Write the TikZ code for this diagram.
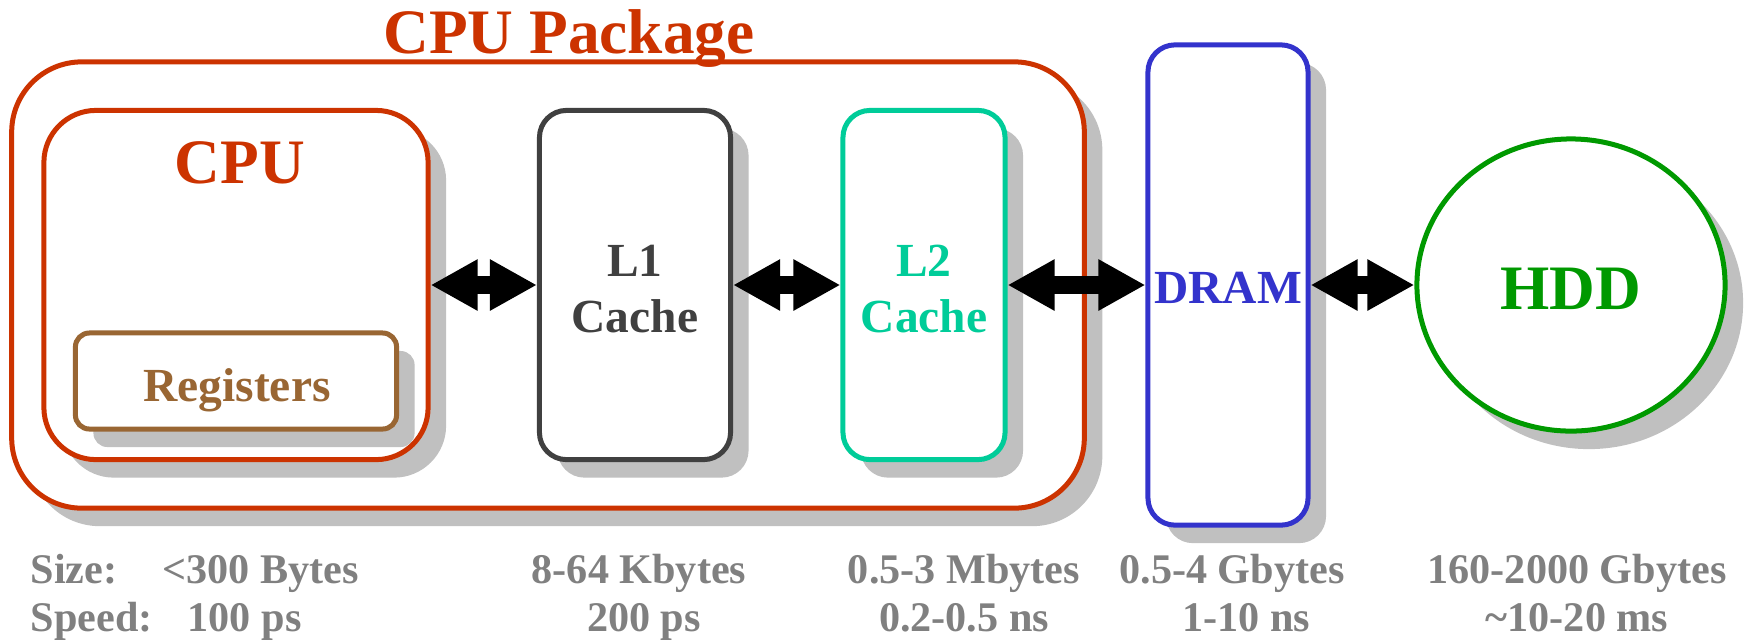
\documentclass[tikz,border=0pt]{standalone}
\usepackage{fontspec}
\setmainfont{Liberation Serif}
\usetikzlibrary{shadows,arrows.meta,shapes.geometric}
\definecolor{pkgred}{HTML}{CC3300}
\definecolor{lonegray}{HTML}{404040}
\definecolor{ltwoteal}{HTML}{00CC99}
\definecolor{dramblue}{HTML}{3333CC}
\definecolor{hddgreen}{HTML}{009900}
\definecolor{regbrown}{HTML}{996633}
\definecolor{notegray}{HTML}{808080}
\definecolor{shadowgray}{HTML}{C0C0C0}
\begin{document}
\begin{tikzpicture}[x=0.01cm, y=-0.01cm,
    box/.style={draw=#1, line width=0.05cm, fill=white, inner sep=0pt, rounded corners=0.27cm,
      drop shadow={shadow xshift=0.18cm, shadow yshift=-0.18cm, fill=shadowgray, draw=none, opacity=1}},
    big/.style={font=\fontsize{18}{21}\selectfont\bfseries, inner sep=0pt},
    mid/.style={font=\fontsize{13.5}{16}\selectfont\bfseries, inner sep=0pt, align=center},
    note/.style={font=\fontsize{12}{14}\selectfont\bfseries, text=notegray, inner sep=0pt},
    link/.style={line width=0.18cm, {Triangle[length=0.47cm,width=0.48cm]}-{Triangle[length=0.47cm,width=0.48cm]}}]
  \useasboundingbox (0,0) rectangle (1748,641);

  % package and its parts
  \node[box=pkgred, rounded corners=0.7cm, minimum width=10.72cm, minimum height=4.46cm] (pkg) at (548,285) {};
  \node[big, text=pkgred, anchor=base] (pkglbl) at (569,53) {CPU Package};
  \node[box=pkgred, rounded corners=0.52cm, minimum width=3.84cm, minimum height=3.49cm] (cpu) at (236,285) {};
  \node[big, text=pkgred, anchor=base] (cpulbl) at (240,183) {CPU};
  \node[box=regbrown, rounded corners=0.14cm, minimum width=3.21cm, minimum height=0.96cm] (reg) at (236,381) {};
  \node[mid, text=regbrown, anchor=base] (reglbl) at (237,401) {Registers};
  \node[box=lonegray, minimum width=1.91cm, minimum height=3.49cm] (l1) at (635,285) {};
  \node[mid, text=lonegray] (l1lbl) at (635,289) {L1\\Cache};
  \node[box=ltwoteal, minimum width=1.62cm, minimum height=3.49cm] (l2) at (924,285) {};
  \node[mid, text=ltwoteal] (l2lbl) at (924,289) {L2\\Cache};

  % memory outside the package
  \node[box=dramblue, minimum width=1.60cm, minimum height=4.80cm] (dram) at (1228,285) {};
  \node[mid, text=dramblue, anchor=base] (dramlbl) at (1228,303) {DRAM};
  \node[box=hddgreen, ellipse, minimum width=3.08cm, minimum height=2.92cm] (hdd) at (1571,285) {};
  \node[big, text=hddgreen, anchor=base] (hddlbl) at (1571,309) {HDD};

  \draw[link] (cpu) -- (l1);
  \draw[link] (l1) -- (l2);
  \draw[link] (l2) -- (dram);
  \draw[link] (dram) -- (hdd);

  % size and speed
  \node[note, anchor=base west] (size) at (30,583) {Size:};
  \node[note, anchor=base west] (speed) at (30,631) {Speed:};
  \node[note, anchor=base west] (cpusize) at (162,583) {<300 Bytes};
  \node[note, anchor=base west] (cpuspeed) at (187,631) {100 ps};
  \node[note, anchor=base] (l1size) at (639,583) {8-64 Kbytes};
  \node[note, anchor=base] (l1speed) at (644,631) {200 ps};
  \node[note, anchor=base] (l2size) at (964,583) {0.5-3 Mbytes};
  \node[note, anchor=base] (l2speed) at (964,631) {0.2-0.5 ns};
  \node[note, anchor=base] (dramsize) at (1232,583) {0.5-4 Gbytes};
  \node[note, anchor=base] (dramspeed) at (1246,631) {1-10 ns};
  \node[note, anchor=base] (hddsize) at (1577,583) {160-2000 Gbytes};
  \node[note, anchor=base] (hddspeed) at (1577,631) {\textasciitilde10-20 ms};
\end{tikzpicture}
\end{document}
